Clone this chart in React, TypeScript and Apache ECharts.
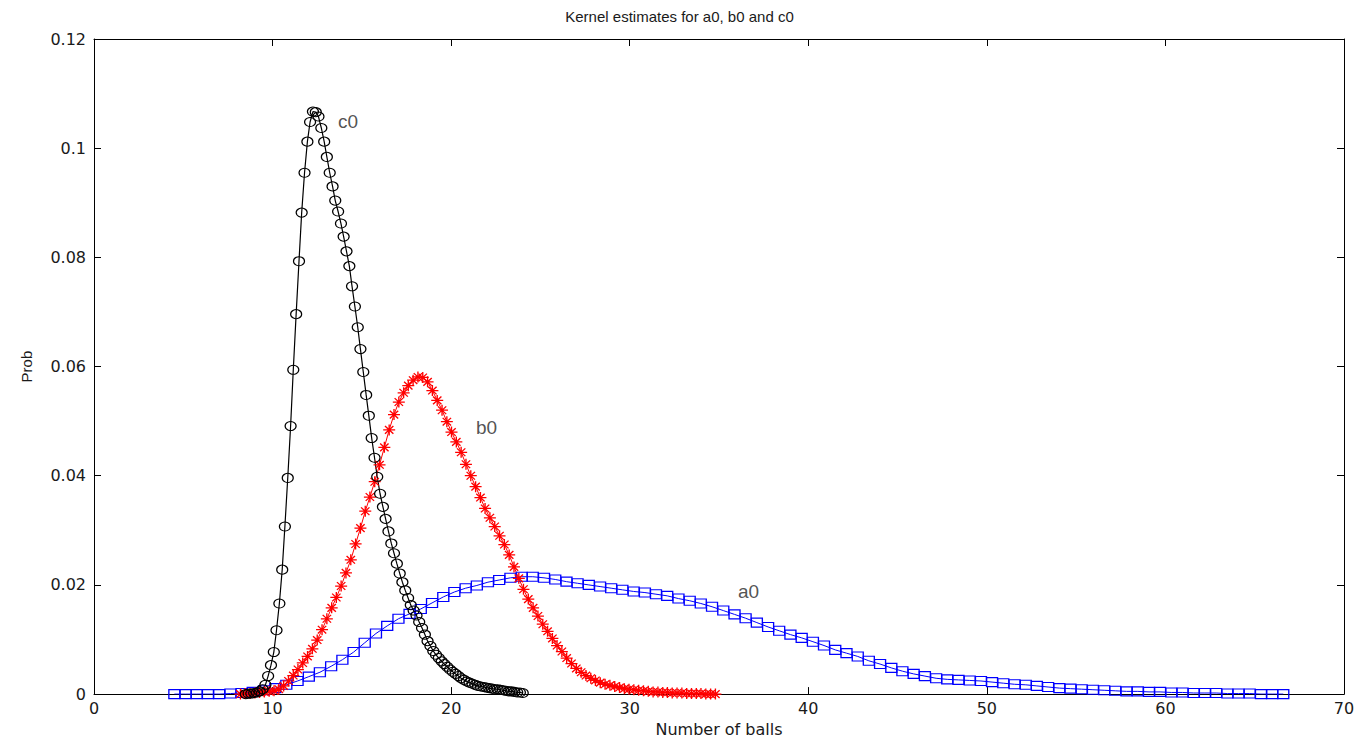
import React, { useEffect, useRef } from "react";
import * as echarts from "echarts";

// a0 kernel estimate (blue squares)
const a0X = [4.50,5.13,5.75,6.38,7.01,7.64,8.26,8.89,9.52,10.15,10.77,11.40,12.03,12.65,13.28,13.91,14.54,15.16,15.79,16.42,17.05,17.67,18.30,18.93,19.56,20.18,20.81,21.44,22.06,22.69,23.32,23.95,24.57,25.20,25.83,26.46,27.08,27.71,28.34,28.96,29.59,30.22,30.85,31.47,32.10,32.73,33.36,33.98,34.61,35.24,35.87,36.49,37.12,37.75,38.37,39.00,39.63,40.26,40.88,41.51,42.14,42.77,43.39,44.02,44.65,45.27,45.90,46.53,47.16,47.78,48.41,49.04,49.67,50.29,50.92,51.55,52.18,52.80,53.43,54.06,54.68,55.31,55.94,56.57,57.19,57.82,58.45,59.08,59.70,60.33,60.96,61.58,62.21,62.84,63.47,64.09,64.72,65.35,65.98,66.60];
const a0Y = [0,0,0,0,0,0.0001,0.0002,0.0004,0.0007,0.0011,
0.0017,0.0024,0.0032,0.0040,0.0051,0.0063,0.0077,0.0094,0.0111,0.0125,
0.0138,0.0147,0.0156,0.0167,0.0178,0.0187,0.0194,0.0199,0.0205,0.0209,
0.0213,0.0215,0.0215,0.0213,0.0210,0.0206,0.0203,0.0200,0.0197,0.0194,
0.0191,0.0188,0.0186,0.0183,0.0180,0.0175,0.0171,0.0166,0.0160,0.0153,
0.0146,0.0139,0.0131,0.0123,0.0116,0.0109,0.0103,0.0096,0.0089,0.0081,
0.0075,0.0069,0.0061,0.0055,0.0048,0.0042,0.0037,0.0033,0.0029,0.0027,
0.0026,0.0025,0.0024,0.0022,0.0020,0.0018,0.0017,0.0015,0.0013,0.0011,
0.0010,0.0009,0.0008,0.0007,0.0006,0.0005,0.0005,0.0004,0.0004,0.0003,
0.0003,0.0002,0.0002,0.0002,0.0001,0.0001,0.0001,0,0,0];

// b0 kernel estimate (red stars)
const b0X = [8.20,8.47,8.74,9.01,9.27,9.54,9.81,10.08,10.35,10.62,10.89,11.16,11.42,11.69,11.96,12.23,12.50,12.77,13.04,13.31,13.57,13.84,14.11,14.38,14.65,14.92,15.19,15.45,15.72,15.99,16.26,16.53,16.80,17.07,17.34,17.60,17.87,18.14,18.41,18.68,18.95,19.22,19.49,19.76,20.02,20.29,20.56,20.83,21.10,21.37,21.64,21.90,22.17,22.44,22.71,22.98,23.25,23.52,23.79,24.05,24.32,24.59,24.86,25.13,25.40,25.67,25.93,26.20,26.47,26.74,27.01,27.28,27.55,27.82,28.08,28.35,28.62,28.89,29.16,29.43,29.70,29.96,30.23,30.50,30.77,31.04,31.31,31.58,31.85,32.11,32.38,32.65,32.92,33.19,33.46,33.73,33.99,34.26,34.53,34.80];
const b0Y = [0,0.0001,0.0001,0.0002,0.0003,0.0004,0.0005,0.0006,0.0009,0.0015,
0.0024,0.0034,0.0045,0.0057,0.0069,0.0083,0.0099,0.0118,0.0138,0.0158,
0.0177,0.0198,0.0222,0.0246,0.0275,0.0304,0.0335,0.0361,0.0389,0.0420,
0.0452,0.0484,0.0512,0.0535,0.0552,0.0565,0.0575,0.0581,0.0580,0.0572,
0.0556,0.0538,0.0520,0.0499,0.0480,0.0462,0.0443,0.0421,0.0400,0.0380,
0.0360,0.0340,0.0323,0.0307,0.0290,0.0274,0.0255,0.0233,0.0212,0.0192,
0.0174,0.0158,0.0143,0.0128,0.0115,0.0102,0.0089,0.0078,0.0066,0.0056,
0.0047,0.0040,0.0034,0.0029,0.0025,0.0021,0.0018,0.0016,0.0014,0.0012,
0.0010,0.0009,0.0008,0.0007,0.0006,0.0005,0.0004,0.0004,0.0003,0.0003,
0.0002,0.0002,0.0002,0.0001,0.0001,0.0001,0.0001,0,0,0];

// c0 kernel estimate (black circles)
const c0X = [8.50,8.66,8.81,8.97,9.13,9.28,9.44,9.60,9.75,9.91,10.07,10.22,10.38,10.54,10.69,10.85,11.01,11.16,11.32,11.48,11.63,11.79,11.95,12.10,12.26,12.42,12.57,12.73,12.89,13.04,13.20,13.36,13.51,13.67,13.83,13.98,14.14,14.30,14.45,14.61,14.77,14.92,15.08,15.24,15.39,15.55,15.71,15.86,16.02,16.18,16.33,16.49,16.65,16.80,16.96,17.12,17.27,17.43,17.59,17.74,17.90,18.06,18.21,18.37,18.53,18.68,18.84,19.00,19.15,19.31,19.47,19.62,19.78,19.94,20.09,20.25,20.41,20.56,20.72,20.88,21.03,21.19,21.35,21.50,21.66,21.82,21.97,22.13,22.29,22.44,22.60,22.76,22.91,23.07,23.23,23.38,23.54,23.70,23.85,24.01];
const c0Y = [0,0.0001,0.0001,0.0002,0.0003,0.0005,0.0009,0.0017,0.0033,0.0053,
0.0077,0.0117,0.0166,0.0228,0.0307,0.0396,0.0491,0.0594,0.0696,0.0793,
0.0882,0.0955,0.1012,0.1048,0.1067,0.1066,0.1058,0.1037,0.1012,0.0984,
0.0955,0.0930,0.0904,0.0884,0.0862,0.0838,0.0811,0.0784,0.0747,0.0710,
0.0672,0.0632,0.0590,0.0548,0.0510,0.0469,0.0433,0.0398,0.0367,0.0343,
0.0321,0.0298,0.0276,0.0258,0.0239,0.0221,0.0205,0.0190,0.0176,0.0163,
0.0153,0.0144,0.0132,0.0121,0.0109,0.0097,0.0088,0.0079,0.0072,0.0066,
0.0060,0.0055,0.0050,0.0045,0.0041,0.0037,0.0033,0.0029,0.0026,0.0023,
0.0021,0.0019,0.0017,0.0015,0.0014,0.0013,0.0012,0.0011,0.0010,0.0009,
0.0009,0.0008,0.0007,0.0006,0.0005,0.0005,0.0004,0.0003,0.0003,0.0002];

// in-plot curve labels (data coordinates)
const labelNames = ["c0", "b0", "a0"];
const labelX = [13.66, 21.39, 36.06];
const labelY = [0.1048, 0.0489, 0.0188];

const STAR = "path://M5,0L5,10M0,5L10,5M1.5,1.5L8.5,8.5M1.5,8.5L8.5,1.5";

const axisLine = { show: true, onZero: false, lineStyle: { color: "#000", width: 1 } };
const tickFont = { fontFamily: "DejaVu Sans", fontSize: 16, color: "#1a1a1a" };

export default function App() {
  const ref = useRef<HTMLDivElement>(null);
  useEffect(() => {
    if (!ref.current) return;
    const chart = echarts.init(ref.current, null, { renderer: "svg" });
    const pairs = (xs: number[], ys: number[]) => xs.map((x, i) => [x, ys[i]]);
    chart.setOption({
      animation: false,
      backgroundColor: "#fff",
      title: {
        text: "Kernel estimates for a0, b0 and c0",
        left: "center",
        top: 4,
        textStyle: { fontFamily: "Liberation Sans", fontSize: 15, fontWeight: "normal", color: "#1a1a1a" },
      },
      grid: { left: 94, right: 15, top: 39, bottom: 46, containLabel: false },
      xAxis: [
        {
          type: "value", min: 0, max: 70, interval: 10, position: "bottom",
          name: "Number of balls", nameLocation: "middle", nameGap: 22,
          nameTextStyle: { fontFamily: "DejaVu Sans", fontSize: 16, color: "#1a1a1a" },
          axisLine, axisTick: { show: true, inside: true, length: 7, lineStyle: { color: "#000" } },
          axisLabel: { show: true, margin: 6, ...tickFont },
          splitLine: { show: false },
        },
        {
          type: "value", min: 0, max: 70, interval: 10, position: "top",
          axisLine, axisTick: { show: true, inside: true, length: 7, lineStyle: { color: "#000" } },
          axisLabel: { show: false }, splitLine: { show: false },
        },
      ],
      yAxis: [
        {
          type: "value", min: 0, max: 0.12, interval: 0.02, position: "left",
          name: "Prob", nameLocation: "middle", nameGap: 60,
          nameTextStyle: { fontFamily: "Liberation Sans", fontSize: 15, color: "#1a1a1a" },
          axisLine, axisTick: { show: true, inside: true, length: 7, lineStyle: { color: "#000" } },
          axisLabel: { show: true, margin: 8, ...tickFont },
          splitLine: { show: false },
        },
        {
          type: "value", min: 0, max: 0.12, interval: 0.02, position: "right",
          axisLine, axisTick: { show: true, inside: true, length: 7, lineStyle: { color: "#000" } },
          axisLabel: { show: false }, splitLine: { show: false },
        },
      ],
      series: [
        {
          type: "line", name: "a0", data: pairs(a0X, a0Y), silent: true,
          symbol: "rect", symbolSize: [11, 9], showSymbol: true, showAllSymbol: true,
          itemStyle: { color: "rgba(0,0,0,0)", borderColor: "#0000ff", borderWidth: 1.2 },
          lineStyle: { color: "#0000ff", width: 1 },
        },
        {
          type: "line", name: "b0", data: pairs(b0X, b0Y), silent: true,
          symbol: STAR, symbolSize: [12, 11], showSymbol: true, showAllSymbol: true,
          itemStyle: { color: "rgba(0,0,0,0)", borderColor: "#ff0000", borderWidth: 1.3 },
          lineStyle: { color: "#ff0000", width: 1 },
        },
        {
          type: "line", name: "c0", data: pairs(c0X, c0Y), silent: true,
          symbol: "circle", symbolSize: [11, 9], showSymbol: true, showAllSymbol: true,
          itemStyle: { color: "rgba(0,0,0,0)", borderColor: "#000000", borderWidth: 1.1 },
          lineStyle: { color: "#000000", width: 1.2 },
        },
        {
          type: "scatter", name: "labels", silent: true, symbolSize: 0,
          data: labelNames.map((n, i) => ({ name: n, value: [labelX[i], labelY[i]] })),
          label: {
            show: true, position: "right", distance: 0, formatter: "{b}",
            fontFamily: "Liberation Sans", fontSize: 19, color: "#262626",
          },
        },
      ],
    });
    return () => chart.dispose();
  }, []);
  return (
    <div
      ref={ref}
      style={{ position: "fixed", left: 0, top: 0, width: 1359, height: 742, background: "#fff" }}
    />
  );
}
